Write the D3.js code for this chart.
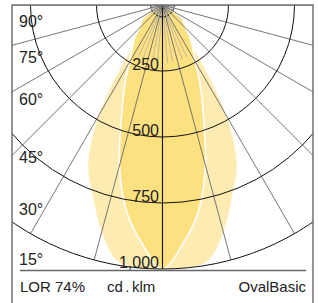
<!DOCTYPE html>
<html>
<head>
<meta charset="utf-8">
<script src="https://cdn.jsdelivr.net/npm/d3@7"></script>
<style>
  body { margin: 0; background: #fff; }
  svg { display: block; font-family: "Liberation Sans", Arial, sans-serif; }
</style>
</head>
<body>
<div id="chart"></div>
<script>
// Gamma angles (degrees from nadir) and intensities in cd/klm
const gammaAngles = [0, 5, 10, 15, 20, 25, 30, 35, 40, 45, 50, 55, 60, 65, 70, 75, 80, 85, 90];
const wideBeam   = [1000, 1000, 985, 890, 770, 665, 480, 215, 40, 10, 0, 0, 0, 0, 0, 0, 0, 0, 0];
const narrowBeam = [1000, 905, 790, 630, 455, 340, 250, 200, 165, 125, 105, 90, 55, 25, 10, 0, 0, 0, 0];

const ringValues = [250, 500, 750, 1000];
const ringLabels = ["250", "500", "750", "1,000"];
const majorAngles = [0, 15, 30, 45, 60, 75, 90];
const angleLabels = ["90°", "75°", "60°", "45°", "30°", "15°"];
const footer = { lor: "LOR 74%", unit: "cd.klm", name: "OvalBasic" };

const width = 318, height = 303;
const frame = { left: 12, right: 313, top: 5 };
const cx = 162.5, cy = 5;
const baseY = 270.5;

const svg = d3.select("#chart").append("svg")
    .attr("width", width)
    .attr("height", height);

const r = d3.scaleLinear().domain([0, 1000]).range([0, 264]);
const rad = d => d * Math.PI / 180;

const defs = svg.append("defs");
defs.append("clipPath").attr("id", "frameClip")
    .append("rect")
    .attr("x", frame.left).attr("y", frame.top)
    .attr("width", frame.right - frame.left).attr("height", baseY - frame.top);

// closed outline: right side from 90 down to 0, then left side 0 up to 90
function outline(values) {
    const pts = [];
    for (let i = gammaAngles.length - 1; i >= 0; i--) pts.push([Math.PI - rad(gammaAngles[i]), r(values[i])]);
    for (let i = 1; i < gammaAngles.length; i++) pts.push([Math.PI + rad(gammaAngles[i]), r(values[i])]);
    return pts;
}
const radial = d3.lineRadial().angle(d => d[0]).radius(d => d[1]).curve(d3.curveCatmullRomClosed);

const plot = svg.append("g").attr("transform", `translate(${cx},${cy})`);
const grid = svg.append("g").attr("clip-path", "url(#frameClip)")
    .append("g").attr("transform", `translate(${cx},${cy})`);

// light distribution
plot.append("path").attr("d", radial(outline(wideBeam))).attr("fill", "#feebb2");
plot.append("path").attr("d", radial(outline(narrowBeam)))
    .attr("fill", "#fde080").attr("stroke", "#fff").attr("stroke-width", 1.6);

// fine rays every 5 degrees near the centre
const minor = d3.range(-85, 90, 5).filter(a => a % 15 !== 0);
grid.selectAll("line.fan").data(minor).join("line").attr("class", "fan")
    .attr("x1", 0).attr("y1", 0)
    .attr("x2", a => r(Math.abs(a) <= 30 ? 220 : 45) * Math.sin(rad(a)))
    .attr("y2", a => r(Math.abs(a) <= 30 ? 220 : 45) * Math.cos(rad(a)))
    .attr("stroke", "#a8a8a8").attr("stroke-width", 0.7);

// major rays
const majors = majorAngles.flatMap(a => a === 0 ? [0] : [-a, a]);
grid.selectAll("line.major").data(majors).join("line").attr("class", "major")
    .attr("x1", 0).attr("y1", 0)
    .attr("x2", a => r(1000) * Math.sin(rad(a)))
    .attr("y2", a => r(1000) * Math.cos(rad(a)))
    .attr("stroke", d => d === 0 ? "#111" : "#666")
    .attr("stroke-width", d => d === 0 ? 1.1 : 0.9);

// rings
grid.selectAll("circle.ring").data(ringValues).join("circle").attr("class", "ring")
    .attr("r", d => r(d))
    .attr("fill", "none").attr("stroke", "#111").attr("stroke-width", 1);
grid.append("circle").attr("r", r(45))
    .attr("fill", "none").attr("stroke", "#111").attr("stroke-width", 1)
    .attr("stroke-dasharray", "2.2,1.6");

// ring labels
svg.selectAll("text.ring").data(ringValues).join("text").attr("class", "ring")
    .attr("x", cx - 3.5)
    .attr("y", d => cy + r(d) - 1.5)
    .attr("text-anchor", "end")
    .attr("font-size", 16)
    .attr("fill", "#222")
    .text((d, i) => ringLabels[i]);

// angle labels down the left side
const angleLabelY = d3.scalePoint().domain(angleLabels).range([27, 265]);
const angleOffsets = [0, -12, -17, -7, -2, 0];
svg.selectAll("text.ang").data(angleLabels).join("text").attr("class", "ang")
    .attr("x", 19)
    .attr("y", (d, i) => angleLabelY(d) + angleOffsets[i])
    .attr("font-size", 16)
    .attr("fill", "#222")
    .text(d => d);

// frame
svg.append("path")
    .attr("d", `M${frame.left},${height}V${frame.top}H${frame.right}V${height}`)
    .attr("fill", "none").attr("stroke", "#707070").attr("stroke-width", 1.5);
svg.append("line")
    .attr("x1", 20).attr("x2", 306).attr("y1", baseY).attr("y2", baseY)
    .attr("stroke", "#666").attr("stroke-width", 1.5);

// footer
const foot = svg.append("g").attr("font-size", 15).attr("fill", "#222");
foot.append("text").attr("x", 20).attr("y", 292).text(footer.lor);
const unit = foot.append("text").attr("x", 107).attr("y", 292);
unit.append("tspan").text("cd");
unit.append("tspan").attr("dx", 2.5).text(".");
unit.append("tspan").attr("dx", 2.5).text("klm");
foot.append("text").attr("x", 306).attr("y", 292).attr("text-anchor", "end").text(footer.name);
</script>
</body>
</html>
